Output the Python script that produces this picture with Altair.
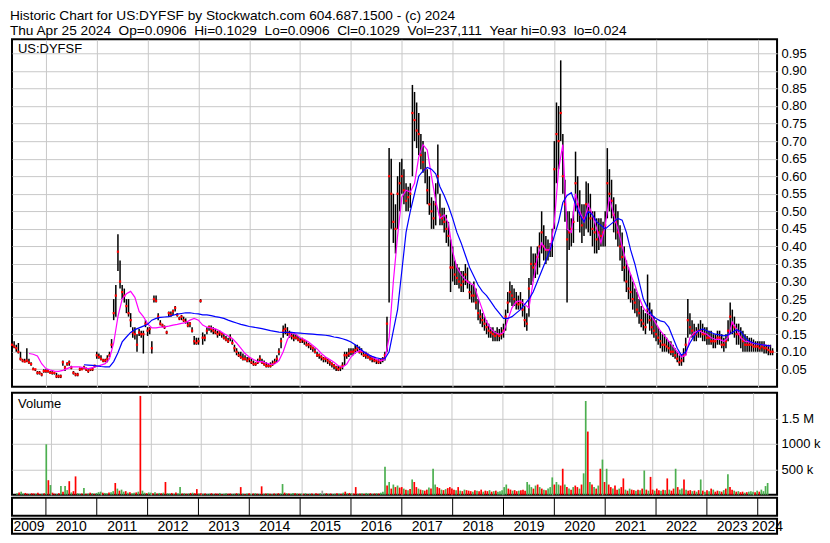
import altair as alt
import pandas as pd

FONT = "Liberation Sans"
NB2 = "\u00a0\u00a0"
TITLE_LINES = [
    "Historic Chart for US:DYFSF by Stockwatch.com 604.687.1500 - (c) 2024",
    NB2.join(["Thu Apr 25 2024", "Op=0.0906", "Hi=0.1029", "Lo=0.0906", "Cl=0.1029",
              "Vol=237,111", "Year hi=0.93", "lo=0.024"]),
]
PANEL_LABEL = "US:DYFSF"
VOLUME_LABEL = "Volume"

YEAR_LABELS = [str(y) for y in range(2009, 2025)]
YEAR_LABEL_POS = [2009.667] + [y + 0.5 for y in range(2010, 2024)] + [2024.19]
YEAR_BOUNDS = list(range(2010, 2025))
X_DOMAIN = [2009.333, 2024.38]

PRICE_TICKS = [0.05, 0.10, 0.15, 0.20, 0.25, 0.30, 0.35, 0.40, 0.45, 0.50,
               0.55, 0.60, 0.65, 0.70, 0.75, 0.80, 0.85, 0.90, 0.95]
PRICE_DOMAIN = [0, 0.99]
VOL_TICKS = [500000, 1000000, 1500000]
VOL_TICK_LABELS = ["500 k", "1000 k", "1.5 M"]
VOL_DOMAIN = [0, 2000000]

# half-monthly samples: 2009 May-Dec (16), 2010-2023 (24 each), 2024 Jan-Apr (8)
T_HALF = ([2009 + k / 24 for k in range(8, 24)]
          + [y + k / 24 for y in range(2010, 2024) for k in range(24)]
          + [2024 + k / 24 for k in range(8)])

HIGH = (
    [.135, .13, .12, .125, .10, .08, .08, .11, .08, .07, .055, .05, .045, .045, .04, .05]
    + [.05, .05, .045, .045, .04, .04, .035, .035, .075, .06, .07, .075,
       .06, .045, .04, .04, .055, .055, .06, .055, .05, .05, .055, .063]
    + [.10, .095, .09, .08, .08, .09, .10, .136, .25, .29, .435, .36,
       .29, .28, .25, .25, .21, .17, .17, .15, .165, .16, .16, .19]
    + [.17, .17, .13, .26, .26, .21, .19, .18, .175, .16, .215, .215,
       .22, .23, .21, .20, .205, .20, .195, .185, .185, .17, .145, .14]
    + [.14, .25, .155, .15, .17, .175, .175, .17, .165, .16, .16, .155,
       .15, .145, .14, .15, .135, .12, .11, .10, .10, .095, .09, .085]
    + [.085, .08, .075, .07, .08, .09, .08, .075, .07, .065, .07, .075,
       .08, .09, .11, .14, .175, .18, .17, .16, .155, .15, .15, .145]
    + [.14, .14, .135, .13, .125, .12, .115, .11, .10, .095, .09, .085,
       .085, .08, .075, .07, .065, .06, .06, .06, .07, .10, .10, .11]
    + [.11, .11, .12, .12, .115, .11, .10, .10, .095, .09, .085, .085,
       .08, .08, .08, .085, .10, .20, .68, .65, .55, .52, .60, .64]
    + [.65, .62, .58, .57, .58, .86, .84, .81, .78, .72, .70, .67,
       .62, .60, .54, .53, .58, .69, .55, .51, .51, .49, .47, .42]
    + [.40, .36, .35, .34, .33, .33, .35, .34, .30, .29, .30, .28,
       .25, .22, .21, .20, .19, .18, .17, .17, .16, .17, .165, .17]
    + [.18, .22, .27, .30, .29, .28, .27, .26, .27, .25, .23, .21,
       .31, .40, .38, .38, .40, .44, .50, .46, .43, .42, .41, .45]
    + [.70, .81, .80, .93, .72, .59, .50, .50, .48, .50, .67, .60,
       .56, .52, .52, .585, .58, .55, .50, .50, .48, .48, .48, .47]
    + [.50, .68, .62, .59, .54, .52, .50, .46, .44, .40, .36, .34,
       .32, .30, .28, .27, .25, .23, .22, .21, .32, .24, .22, .20]
    + [.19, .17, .16, .15, .15, .14, .13, .13, .12, .11, .10, .09,
       .09, .11, .14, .25, .21, .19, .18, .17, .18, .19, .18, .17]
    + [.17, .16, .16, .15, .15, .16, .16, .15, .14, .15, .19, .24,
       .22, .20, .18, .18, .17, .16, .15, .145, .14, .14, .135, .13]
    + [.13, .13, .13, .13, .12, .12, .12, .11]
)

LOW = (
    [.10, .11, .10, .095, .075, .07, .07, .07, .065, .06, .05, .045, .035, .035, .03, .04]
    + [.04, .04, .04, .035, .035, .025, .025, .025, .06, .045, .06, .06,
       .05, .035, .03, .03, .045, .05, .05, .045, .04, .045, .045, .055]
    + [.08, .08, .075, .07, .07, .07, .085, .11, .19, .20, .33, .28,
       .25, .24, .21, .20, .17, .14, .135, .10, .145, .14, .095, .17]
    + [.145, .15, .095, .24, .24, .19, .175, .17, .165, .15, .20, .20,
       .205, .215, .20, .19, .19, .185, .18, .17, .17, .155, .12, .12]
    + [.12, .24, .12, .13, .15, .16, .155, .15, .15, .14, .145, .14,
       .135, .13, .125, .13, .12, .10, .09, .085, .08, .075, .075, .07]
    + [.07, .065, .06, .06, .065, .07, .065, .06, .055, .055, .055, .06,
       .065, .07, .09, .11, .14, .15, .145, .14, .135, .13, .135, .13]
    + [.125, .125, .12, .115, .11, .105, .10, .095, .085, .08, .075, .07,
       .07, .065, .06, .055, .05, .045, .045, .045, .05, .06, .08, .085]
    + [.09, .09, .095, .10, .095, .09, .085, .08, .08, .075, .07, .07,
       .065, .065, .065, .07, .075, .10, .24, .45, .41, .38, .45, .50]
    + [.55, .52, .50, .50, .51, .60, .70, .68, .66, .62, .61, .58,
       .52, .49, .45, .45, .46, .55, .46, .46, .44, .41, .40, .27]
    + [.30, .29, .29, .28, .27, .27, .29, .28, .25, .24, .24, .22,
       .19, .18, .17, .16, .15, .14, .14, .13, .13, .13, .13, .135]
    + [.14, .16, .21, .24, .23, .23, .22, .22, .22, .20, .17, .16,
       .20, .29, .30, .31, .32, .34, .38, .36, .35, .36, .37, .37]
    + [.45, .58, .62, .70, .55, .47, .24, .39, .40, .41, .50, .47,
       .44, .41, .43, .45, .44, .43, .40, .38, .38, .39, .40, .40]
    + [.40, .48, .50, .48, .44, .42, .40, .36, .33, .30, .27, .25,
       .24, .22, .21, .20, .18, .17, .16, .15, .18, .16, .15, .14]
    + [.13, .12, .11, .10, .10, .10, .095, .09, .085, .08, .07, .06,
       .06, .07, .09, .14, .15, .14, .13, .13, .14, .14, .13, .13]
    + [.12, .12, .12, .11, .11, .12, .12, .11, .10, .11, .13, .15,
       .15, .14, .12, .12, .11, .10, .10, .10, .10, .10, .10, .10]
    + [.10, .10, .10, .095, .095, .09, .09, .09]
)

CLOSE = (
    [.12, .115, .11, .10, .08, .075, .072, .075, .07, .065, .05, .05, .04, .04, .035, .045]
    + [.045, .045, .04, .04, .04, .03, .03, .03, .07, .055, .065, .07,
       .055, .04, .035, .035, .05, .05, .055, .05, .045, .05, .05, .06]
    + [.09, .085, .08, .075, .075, .08, .09, .12, .21, .26, .385, .30,
       .27, .26, .23, .21, .19, .155, .15, .12, .155, .15, .15, .18]
    + [.16, .165, .11, .25, .245, .20, .18, .175, .17, .155, .21, .205,
       .215, .225, .205, .195, .20, .19, .185, .175, .18, .16, .13, .125]
    + [.13, .245, .14, .14, .16, .17, .165, .16, .155, .15, .155, .15,
       .14, .135, .13, .14, .125, .11, .10, .09, .085, .08, .08, .075]
    + [.08, .07, .065, .065, .07, .08, .07, .065, .06, .06, .06, .065,
       .07, .08, .10, .13, .16, .165, .155, .15, .145, .14, .14, .135]
    + [.13, .135, .13, .12, .12, .115, .11, .10, .09, .09, .085, .08,
       .08, .075, .07, .065, .06, .055, .05, .055, .06, .09, .09, .095]
    + [.10, .10, .105, .11, .10, .10, .09, .09, .085, .08, .08, .075,
       .075, .07, .075, .08, .09, .18, .60, .55, .47, .45, .55, .58]
    + [.60, .56, .53, .54, .55, .78, .76, .73, .72, .66, .64, .62,
       .56, .52, .50, .48, .52, .60, .49, .48, .47, .45, .43, .34]
    + [.34, .32, .31, .30, .29, .30, .32, .30, .27, .26, .26, .24,
       .21, .20, .19, .18, .17, .16, .155, .15, .145, .15, .145, .15]
    + [.16, .20, .24, .27, .26, .25, .24, .235, .24, .22, .19, .18,
       .28, .35, .34, .35, .37, .40, .44, .40, .39, .39, .39, .42]
    + [.62, .72, .70, .78, .60, .52, .42, .44, .45, .47, .58, .52,
       .49, .46, .48, .52, .50, .48, .45, .44, .42, .44, .43, .44]
    + [.46, .58, .55, .53, .49, .47, .44, .40, .37, .34, .30, .28,
       .27, .25, .24, .22, .21, .19, .18, .17, .22, .19, .17, .16]
    + [.15, .14, .13, .12, .12, .115, .11, .10, .10, .09, .08, .07,
       .075, .09, .12, .19, .17, .16, .15, .15, .16, .16, .15, .15]
    + [.14, .14, .13, .13, .13, .14, .14, .12, .12, .13, .16, .20,
       .18, .17, .15, .15, .14, .13, .12, .12, .12, .12, .115, .115]
    + [.115, .11, .115, .11, .11, .105, .10, .10]
)

VOLUME_K = (
    [30, 45, 60, 25, 35, 20, 15, 30, 25, 20, 40, 15, 20, 30, 990, 285]
    + [190, 40, 20, 15, 30, 170, 60, 170, 90, 266, 45, 70, 360, 30, 20, 25, 130, 20, 25, 40, 30, 20, 35, 50]
    + [60, 40, 35, 30, 45, 50, 70, 230, 120, 80, 100, 60, 70, 40, 50, 30, 40, 45, 60, 1940, 80, 40, 30, 45]
    + [40, 30, 50, 25, 35, 30, 40, 250, 30, 25, 35, 20, 45, 30, 150, 25, 30, 20, 25, 35, 40, 30, 110, 25]
    + [30, 20, 25, 15, 20, 30, 15, 25, 20, 35, 15, 20, 30, 20, 25, 15, 20, 30, 25, 150, 20, 15, 25, 30]
    + [20, 25, 30, 20, 15, 165, 20, 25, 30, 20, 15, 25, 20, 30, 25, 210, 40, 30, 25, 20, 35, 30, 25, 20]
    + [25, 20, 30, 15, 20, 25, 15, 30, 20, 30, 80, 25, 30, 20, 25, 15, 20, 30, 25, 20, 40, 60, 30, 35]
    + [30, 25, 150, 20, 25, 30, 20, 35, 25, 30, 20, 25, 30, 25, 40, 60, 550, 180, 250, 120, 200, 150, 180, 140]
    + [150, 120, 100, 90, 110, 300, 250, 150, 120, 100, 90, 80, 100, 140, 120, 510, 200, 150, 130, 100, 90, 110, 130, 150]
    + [120, 100, 90, 150, 80, 70, 100, 90, 80, 70, 60, 90, 80, 70, 100, 60, 80, 70, 90, 60, 70, 80, 60, 70]
    + [90, 150, 200, 120, 100, 80, 90, 70, 80, 90, 100, 80, 250, 200, 150, 120, 180, 200, 150, 120, 100, 90, 120, 150]
    + [340, 200, 250, 200, 180, 510, 200, 150, 120, 100, 150, 180, 150, 120, 200, 420, 1840, 1240, 250, 200, 150, 120, 180, 510]
    + [690, 250, 510, 200, 150, 120, 180, 100, 120, 150, 320, 100, 80, 120, 100, 90, 80, 100, 90, 120, 475, 100, 80, 350]
    + [100, 80, 120, 90, 80, 100, 90, 320, 100, 80, 120, 510, 150, 100, 120, 300, 100, 80, 90, 70, 80, 60, 90, 300]
    + [80, 60, 90, 70, 120, 100, 60, 80, 70, 60, 90, 120, 400, 150, 100, 80, 60, 70, 50, 60, 40, 50, 60, 70]
    + [60, 50, 80, 60, 100, 70, 170, 230]
)

# g = up day (green), r = down day (red), n = unchanged (grey)
VOL_DIR = "".join([
    "grgg rrgr rgrr grgr",
    "grrg rgrg grgr rggr grgr grgg",
    "grgg rggr grgg rgrg grgr ggrg",
    "grgr grgr ggrg rggr grgr grrg",
    "rgrg grgr rgrg grrg grgr grgr",
    "grgr grgr grgr grgg rgrg grgr",
    "grgr grgr rgng rgrg grgr grgr",
    "grrg rgrg grgr grgg grgr grgr",
    "rgrg rgrr grgr rgrg grrg rgrr",
    "rrgr grgr rrgr grrg rrgr grgg",
    "gggr rgrr grrr gggr grgr grgg",
    "grgg rrgr grgr rgrg grgr grgr",
    "grgr rgrr grrg rgrr grgr grgr",
    "rgrr grgr grrg rggr grrg rgrg",
    "rgrg rgrr grgr grrg rgrr grgg",
    "grgr gggg",
]).replace(" ", "")

# fast moving average (magenta), monthly from Sep 2009
T_FAST = ([2009 + m / 12 for m in range(8, 12)]
          + [y + m / 12 for y in range(2010, 2024) for m in range(12)]
          + [2024 + m / 12 for m in range(4)])
MA_FAST = (
    [.095, .093, .088, .066]
    + [.052, .048, .045, .044, .047, .052, .057, .057, .057, .054, .052, .055]
    + [.058, .062, .066, .08, .125, .20, .25, .265, .272, .255, .215, .20]
    + [.18, .168, .168, .17, .171, .173, .176, .178, .181, .183, .19, .195]
    + [.19, .176, .17, .168, .165, .16, .152, .145, .138, .125, .11, .095]
    + [.085, .078, .072, .072, .068, .064, .065, .075, .10, .135, .155, .15]
    + [.14, .135, .128, .118, .108, .095, .085, .078, .07, .06, .056, .065]
    + [.085, .097, .103, .10, .093, .085, .079, .074, .078, .14, .30, .43]
    + [.54, .56, .555, .58, .655, .69, .675, .60, .53, .48, .49, .465]
    + [.385, .34, .32, .305, .295, .29, .255, .22, .185, .165, .155, .15]
    + [.155, .19, .225, .243, .245, .235, .225, .30, .37, .41, .39, .39]
    + [.47, .62, .69, .45, .44, .55, .50, .47, .52, .49, .45, .41]
    + [.46, .54, .49, .45, .40, .355, .32, .29, .255, .225, .21, .20]
    + [.18, .16, .145, .13, .115, .10, .085, .09, .14, .155, .16, .155]
    + [.15, .14, .135, .135, .13, .14, .185, .165, .14, .13, .128, .124]
    + [.122, .12, .118, .116]
)

# slow moving average (blue), monthly from Oct 2010
T_SLOW = ([2010 + m / 12 for m in range(9, 12)]
          + [y + m / 12 for y in range(2011, 2024) for m in range(12)]
          + [2024 + m / 12 for m in range(4)])
MA_SLOW = (
    [.063, .062, .061]
    + [.06, .058, .057, .057, .072, .097, .128, .142, .155, .163, .168, .173]
    + [.178, .19, .195, .198, .199, .20, .204, .207, .209, .211, .211, .209]
    + [.208, .205, .205, .203, .20, .198, .195, .19, .186, .182, .178, .175]
    + [.172, .17, .168, .166, .163, .16, .158, .156, .155, .155, .155, .154]
    + [.153, .152, .151, .15, .149, .148, .147, .145, .142, .14, .137, .133]
    + [.128, .12, .11, .10, .092, .087, .083, .08, .08, .10, .16, .22]
    + [.33, .44, .50, .55, .60, .615, .625, .62, .607, .57, .545, .515]
    + [.48, .44, .41, .375, .34, .315, .29, .272, .26, .243, .225, .21]
    + [.195, .195, .20, .21, .22, .235, .25, .27, .30, .33, .36, .39]
    + [.43, .47, .525, .545, .553, .52, .49, .47, .50, .49, .47, .46]
    + [.45, .46, .47, .48, .475, .44, .39, .35, .30, .25, .225, .205]
    + [.195, .188, .185, .17, .14, .11, .09, .10, .125, .145, .16, .165]
    + [.16, .155, .15, .148, .145, .148, .155, .163, .158, .14, .13, .125]
    + [.122, .12, .118, .117]
)

# ---------------------------------------------------------------- tables
n = min(len(T_HALF), len(HIGH), len(LOW), len(CLOSE))
price_df = pd.DataFrame({"t": T_HALF[:n], "hi": HIGH[:n], "lo": LOW[:n], "cl": CLOSE[:n]})
nv = min(len(T_HALF), len(VOLUME_K), len(VOL_DIR))
vol_df = pd.DataFrame({"t": T_HALF[:nv], "v": [v * 1000 for v in VOLUME_K[:nv]], "d": list(VOL_DIR[:nv])})
nf = min(len(T_FAST), len(MA_FAST))
fast_df = pd.DataFrame({"t": T_FAST[:nf], "v": MA_FAST[:nf]})
ns = min(len(T_SLOW), len(MA_SLOW))
slow_df = pd.DataFrame({"t": T_SLOW[:ns], "v": MA_SLOW[:ns]})
bounds_df = pd.DataFrame({"t": YEAR_BOUNDS})
labels_df = pd.DataFrame({"t": YEAR_LABEL_POS, "label": YEAR_LABELS})

# ---------------------------------------------------------------- style
W = 766
H_PRICE = 348
H_VOL = 102
H_YR = 18
H_LBL = 15
GRID = "#c8c8c8"

XSCALE = alt.Scale(domain=X_DOMAIN, nice=False, zero=False)
XAXIS = alt.Axis(values=YEAR_BOUNDS, grid=True, gridColor=GRID, gridWidth=1,
                 labels=False, ticks=False, domain=False, title=None)
PSCALE = alt.Scale(domain=PRICE_DOMAIN, nice=False, zero=False)
PAXIS = alt.Axis(orient="right", values=PRICE_TICKS, format=".2f", grid=True,
                 gridColor=GRID, gridWidth=1, ticks=False, domain=False, title=None,
                 labelFont=FONT, labelFontSize=13, labelColor="#000000", labelPadding=4)
VSCALE = alt.Scale(domain=VOL_DOMAIN, nice=False, zero=True)
VOL_EXPR = " : ".join(f"datum.value == {v} ? '{l}'" for v, l in zip(VOL_TICKS, VOL_TICK_LABELS)) + " : ''"
VAXIS = alt.Axis(orient="right", values=VOL_TICKS, labelExpr=VOL_EXPR, grid=True,
                 gridColor=GRID, gridWidth=1, ticks=False, domain=False, title=None,
                 labelFont=FONT, labelFontSize=13, labelColor="#000000", labelPadding=4)


def xenc():
    return alt.X("t:Q", scale=XSCALE, axis=XAXIS)


# ---------------------------------------------------------------- price panel
bars = alt.Chart(price_df).mark_rule(color="#000000", strokeWidth=1.5).encode(
    x=xenc(), y=alt.Y("lo:Q", scale=PSCALE, axis=PAXIS), y2="hi:Q")
closes = alt.Chart(price_df).mark_square(size=5, color="#ff0000", opacity=1).encode(
    x=xenc(), y=alt.Y("cl:Q", scale=PSCALE, axis=PAXIS))
fast = alt.Chart(fast_df).mark_line(color="#ff00ff", strokeWidth=1.2).encode(
    x=xenc(), y=alt.Y("v:Q", scale=PSCALE, axis=PAXIS))
slow = alt.Chart(slow_df).mark_line(color="#0000ff", strokeWidth=1.2).encode(
    x=xenc(), y=alt.Y("v:Q", scale=PSCALE, axis=PAXIS))
plabel = alt.Chart(pd.DataFrame({"s": [PANEL_LABEL]})).mark_text(
    align="left", baseline="middle", font=FONT, fontSize=13, color="#000000").encode(
    x=alt.value(6), y=alt.value(10), text="s:N")
price = alt.layer(bars, closes, fast, slow, plabel).properties(width=W, height=H_PRICE)

# ---------------------------------------------------------------- volume panel
vbars = alt.Chart(vol_df).mark_bar(size=1.7).encode(
    x=xenc(), y=alt.Y("v:Q", scale=VSCALE, axis=VAXIS),
    color=alt.Color("d:N", scale=alt.Scale(domain=["r", "g", "n"],
                                           range=["#ff0000", "#4caf50", "#a0a0a0"]),
                    legend=None))
vlabel = alt.Chart(pd.DataFrame({"s": [VOLUME_LABEL]})).mark_text(
    align="left", baseline="middle", font=FONT, fontSize=13, color="#000000").encode(
    x=alt.value(6), y=alt.value(11), text="s:N")
volume = alt.layer(vbars, vlabel).properties(width=W, height=H_VOL)

# ---------------------------------------------------------------- year rows
yrow = alt.Chart(bounds_df).mark_rule(color="#000000", strokeWidth=1).encode(
    x=alt.X("t:Q", scale=XSCALE, axis=None)).properties(width=W, height=H_YR)
lrow = alt.Chart(labels_df).mark_text(
    font=FONT, fontSize=14, color="#000000", baseline="middle").encode(
    x=alt.X("t:Q", scale=XSCALE, axis=None), y=alt.value(H_LBL / 2 + 0.5),
    text="label:N").properties(width=W, height=H_LBL)

lower = alt.vconcat(volume, yrow, lrow, spacing=0)
chart = alt.vconcat(price, lower, spacing=4).properties(
    title=alt.TitleParams(text=TITLE_LINES, anchor="start", font=FONT, fontSize=13.7,
                          fontWeight="normal", color="#000000", lineHeight=15, offset=1),
    padding={"left": 1, "top": 0, "right": 0, "bottom": 1},
    background="#ffffff",
).configure_view(stroke="#000000", strokeWidth=2)

chart.save("out.html", embed_options={"renderer": "svg", "actions": False})
